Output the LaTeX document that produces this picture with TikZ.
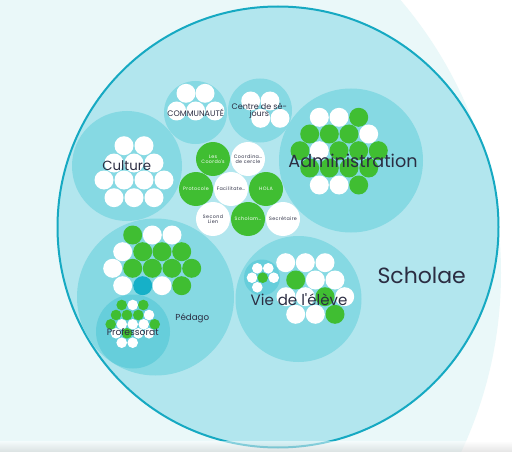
\documentclass[tikz,border=0pt]{standalone}
\usepackage{fontspec}
\setmainfont{Poppins}
\definecolor{bgcol}{RGB}{234,248,249}
\definecolor{outcol}{RGB}{178,230,238}
\definecolor{rimcol}{RGB}{22,169,194}
\definecolor{grpcol}{RGB}{134,217,227}
\definecolor{subcol}{RGB}{102,206,219}
\definecolor{gcol}{RGB}{64,190,50}
\definecolor{tcol}{RGB}{22,176,200}
\definecolor{txtcol}{RGB}{43,45,66}
\tikzset{every picture/.style={x=1pt,y=-1pt}}
\tikzset{group/.style={circle,fill=grpcol,inner sep=0pt}}
\tikzset{leaf/.style={circle,fill=white,inner sep=0pt,minimum size=19}}
\tikzset{tinyleaf/.style={circle,fill=white,inner sep=0pt,minimum size=10.6}}
\tikzset{role/.style={circle,fill=white,inner sep=0pt,minimum size=34,align=center,text=txtcol,font=\fontsize{4.8}{5.2}\selectfont\addfontfeature{LetterSpace=8}}}
\tikzset{green/.style={fill=gcol,text=white}}
\tikzset{lbl/.style={text=txtcol,inner sep=0pt,align=center}}

\begin{document}
\begin{tikzpicture}
\useasboundingbox (0,0) rectangle (512,452);
\fill [white] (0,0) rectangle (512,452);
\fill [bgcol] (80,273) circle (421pt);
% the whole circle
\node [circle,fill=outcol,draw=rimcol,line width=2pt,inner sep=0pt,minimum size=441] (scholae) at (278,227) {};
% groups
\node [group,minimum size=110] (culture) at (127,166) {};
\node [group,minimum size=63] (communaute) at (195.5,112.5) {};
\node [group,minimum size=64] (centre) at (260,110.5) {};
\node [group,minimum size=144] (admin) at (351,160.5) {};
\node [group,minimum size=157] (pedago) at (155.5,297) {};
\node [group,fill=subcol,minimum size=74] (prof) at (133,331.5) {};
\node [group,minimum size=126] (vie) at (298.5,299) {};
\node [group,fill=subcol,minimum size=36] (viesub) at (262,277.5) {};

% leaves
\foreach \x/\y [count=\i] in {124/145.7,144/145.7,114/163,134/163,154/163,104/180,124/180,144/180,164/180,114/197.7,134/197.7,154/197.7}
  \node [leaf] (cul\i) at (\x,\y) {};
\foreach \x/\y [count=\i] in {186/93.3,205/93.3,176.7/111,195.7/111,215/111}
  \node [leaf] (com\i) at (\x,\y) {};
\foreach \x/\y [count=\i] in {250.7/101,270/101,260.7/118.3,280/118.3}
  \node [leaf] (cen\i) at (\x,\y) {};
\foreach \x/\y/\c [count=\i] in {319.3/117.3/white,339/117.3/white,358.7/117.3/gcol,
    309.7/134/gcol,329.3/134/gcol,349/134/gcol,368.7/134/white,
    300/150.7/gcol,319.3/150.7/white,339/150.7/gcol,358.7/150.7/gcol,378.3/150.7/gcol,
    309.7/168/gcol,329.3/168/gcol,349/168/gcol,368.7/168/gcol,
    319.3/185/white,339/185/white,358.7/185/gcol}
  \node [leaf,fill=\c] (adm\i) at (\x,\y) {};
\foreach \x/\y/\c [count=\i] in {132.7/235/gcol,152.3/235/white,172/235/white,
    122.7/251.7/white,142.7/251.7/gcol,162/251.7/gcol,181.7/251.7/gcol,
    112.7/268.3/white,132.7/268.3/gcol,152.3/268.3/gcol,172/268.3/gcol,191.7/268.3/gcol,
    122.7/285.7/white,142.7/285.7/tcol,162/285.7/white,181.7/285.7/gcol}
  \node [leaf,fill=\c] (ped\i) at (\x,\y) {};
\foreach \x/\y/\c [count=\i] in {121.7/305/gcol,132.7/305/white,143.3/305/gcol,
    116/315/gcol,127/315/gcol,138.3/315/gcol,149/315/white,
    110.7/324.3/gcol,121.7/324.3/white,132.7/324.3/white,143.7/324.3/white,154.7/324.3/gcol,
    116/333.3/white,127/333.3/gcol,138.3/333.3/white,149/333.3/white,
    121.7/342.7/white,132.7/342.7/white}
  \node [tinyleaf,fill=\c] (pro\i) at (\x,\y) {};
\foreach \x/\y/\c [count=\i] in {285.7/262.7/white,305.3/262.7/white,325/262.7/white,
    295.7/280/gcol,315.3/280/white,335/280/white,
    286/296.7/white,305.3/296.7/white,325/296.7/gcol,344.7/296.7/white,
    295.7/314.3/white,315.3/314.3/white,335/314.3/gcol}
  \node [leaf,fill=\c] (vie\i) at (\x,\y) {};
\foreach \x/\y/\c [count=\i] in {257.3/268.3/white,268.3/268.3/white,252/277.7/white,
    262.7/277.7/gcol,273.7/277.7/white,257.3/287.3/white}
  \node [tinyleaf,fill=\c] (vis\i) at (\x,\y) {};

% roles in the middle
\node [role,green] (coordos) at (213,159) {Les\\Coordo\textquotesingle s};
\node [role] (coordcercle) at (248,159) {Coordina…\\de cercle};
\node [role,green] (protocole) at (196,189) {Protocole};
\node [role] (facilitateur) at (231,189) {Facilitate…};
\node [role,green] (hola) at (266,189) {HOLA};
\node [role] (secondlien) at (213,219) {Second\\Lien};
\node [role,green] (scholam) at (248,219) {Scholam…};
\node [role] (secretaire) at (283,219) {Secrétaire};

% labels
\node [lbl,font=\fontsize{13.3}{13}\selectfont] (culturelbl) at (126.7,165.7) {Culture};
\node [lbl,font=\fontsize{8}{8}\selectfont] (communautelbl) at (195.7,112.7) {COMMUNAUTÉ};
\node [lbl,font=\fontsize{8}{7.5}\selectfont] (centrelbl) at (259.3,110.8) {Centre de sé-\\jours};
\node [lbl,font=\fontsize{17.6}{17}\selectfont] (adminlbl) at (353,161) {Administration};
\node [lbl,font=\fontsize{8.7}{8.7}\selectfont] (pedagolbl) at (192.3,318.3) {Pédago};
\node [lbl,font=\fontsize{9.2}{9}\selectfont] (proflbl) at (132.7,331.7) {Professorat};
\node [lbl,font=\fontsize{15}{15}\selectfont] (vielbl) at (299,299.3) {Vie de l\textquotesingle élève};
\node [lbl,font=\fontsize{22}{22}\selectfont] (scholaelbl) at (421.7,275.3) {Scholae};

\shade [top color=white,bottom color=black!20,opacity=.5] (0,441) rectangle (512,452);
\end{tikzpicture}
\end{document}
